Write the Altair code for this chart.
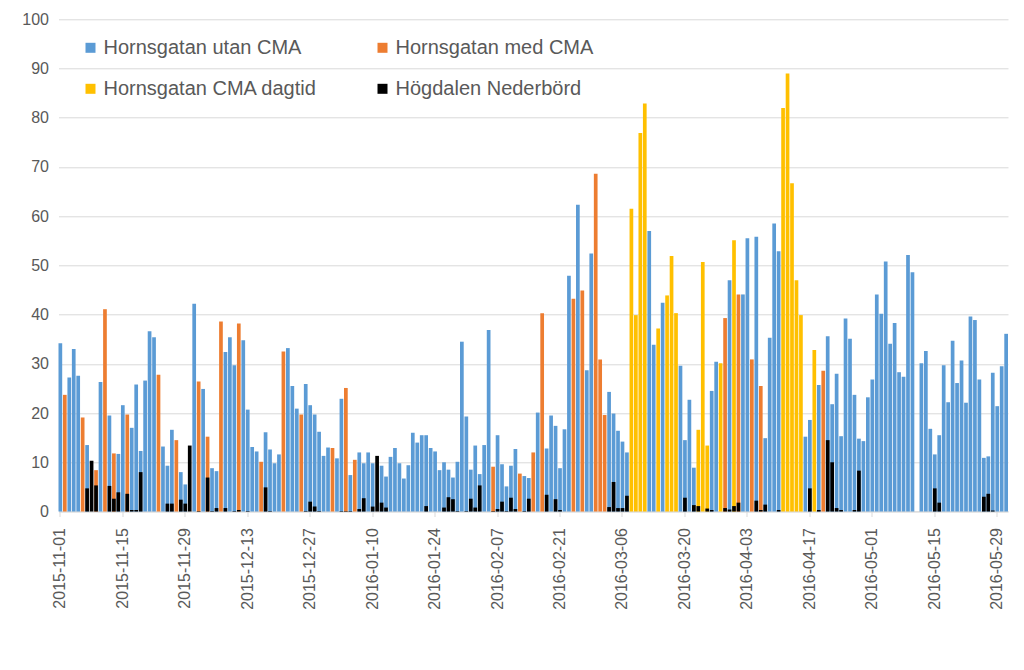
import altair as alt
import pandas as pd

start = "2015-11-01"

# PM10 per day (None = no value shown)
pm10 = [
    34.2, 23.7, 27.2, 33.0, 27.6, 19.1, 13.5, None, 8.4, 26.3,
    41.1, 19.5, 11.8, 11.7, 21.6, 19.7, 17.0, 25.8, 12.3, 26.6,
    36.6, 35.4, 27.8, 13.2, 9.3, 16.6, 14.5, 8.0, 5.5, None,
    42.2, 26.4, 24.9, 15.2, 8.8, 8.2, 38.6, 32.4, 35.4, 29.7,
    38.2, 34.8, 20.7, 13.1, 12.2, 10.1, 16.1, 12.6, 9.8, 11.6,
    32.5, 33.2, 25.5, 20.9, 19.7, 25.9, 21.6, 19.7, 16.2, 11.3,
    13.0, 12.9, 10.8, 22.9, 25.1, 7.4, 10.5, 12.0, 9.8, 12.0,
    9.8, None, 9.3, 7.1, 11.1, 12.9, 9.8, 6.7, 9.4, 16.0,
    14.0, 15.5, 15.5, 12.9, 12.2, 8.4, 10.0, 8.5, 6.9, 10.1,
    34.5, 19.3, 8.5, 13.4, 7.6, 13.5, 36.9, 9.1, 15.5, 9.6,
    5.1, 9.3, 12.7, 7.7, 7.2, 6.8, 12.0, 20.1, 40.3, 12.8,
    19.5, 17.4, 8.8, 16.7, 47.9, 43.2, 62.3, 44.9, 28.7, 52.4,
    68.6, 30.9, 19.6, 24.3, 19.9, 16.4, 14.2, 12.0, 61.5, 39.9,
    76.9, 82.9, 57.0, 33.9, 37.2, 42.4, 43.9, 51.9, 40.3, 29.6,
    14.5, 22.7, 8.9, 16.6, 50.7, 13.4, 24.5, 30.4, 30.1, 39.3,
    47.0, 55.1, 44.1, 44.1, 55.5, 30.9, 55.8, 25.5, 14.9, 35.3,
    58.5, 52.9, 82.0, 89.0, 66.7, 47.0, 39.9, 15.2, 18.6, 32.8,
    25.7, 28.6, 35.6, 21.8, 28.0, 15.3, 39.2, 35.1, 23.7, 14.8,
    14.3, 23.2, 26.8, 44.1, 40.2, 50.8, 34.1, 38.3, 28.3, 27.4,
    52.1, 48.6, None, 30.1, 32.6, 16.8, 11.6, 15.5, 29.7, 22.2,
    34.7, 26.1, 30.7, 22.1, 39.6, 38.9, 26.8, 10.9, 11.2, 28.2,
    21.4, 29.5, 36.1,
]

# Which series each day's PM10 value belongs to: U = utan CMA, M = med CMA, D = CMA dagtid
cats = (
    "UMUUUMU-MU" "MUMUUMUUUU" "UUMUUUMUU-" "UMUMUUMUUU" "MUUUUMUUUU"
    "MUUUMUUUUU" "UMUUMUMUUU" "U-UUUUUUUU" "UUUUUUUUUU" "UUUUUUUMUU"
    "UUUMUUMUMU" "UUUUUMUMUU" "MMMUUUUUDD" "DDUUDUDDDU" "UUUDDDUUDM"
    "UDMUUMUMUU" "UUDDDDDUUD" "UMUUUUUUUU" "UUUUUUUUUU" "UU-UUUUUUU"
    "UUUUUUUUUU" "UUU"
)

# Precipitation Högdalen (mm)
precip = [
    0, 0, 0, 0, 0, 0, 4.7, 10.3, 5.3, 0,
    0, 5.2, 2.6, 3.9, 0, 3.6, 0.3, 0.3, 8.0, 0,
    0, 0, 0, 0, 1.6, 1.6, 0, 2.4, 1.6, 13.4,
    0, 0.1, 0, 6.9, 0.1, 0.7, 0, 0.7, 0, 0.1,
    0.3, 0, 0.1, 0, 0, 0, 4.9, 0.1, 0, 0,
    0, 0, 0, 0, 0, 0.1, 2.0, 1.0, 0.1, 0,
    0, 0, 0, 0.1, 0.1, 0.1, 0, 0.5, 2.7, 0,
    1.0, 11.3, 1.8, 0.8, 0, 0, 0, 0, 0, 0,
    0, 0, 1.1, 0, 0, 0, 0.8, 2.9, 2.5, 0.1,
    0, 0.1, 2.6, 0.8, 5.3, 0, 0, 0.1, 0.5, 2.0,
    0.1, 2.8, 0.5, 0, 0.1, 2.6, 0, 0, 0, 3.4,
    0, 2.5, 0.3, 0, 0, 0, 0, 0, 0, 0,
    0, 0, 0, 0.9, 6.0, 0.7, 0.7, 3.2, 0, 0,
    0, 0, 0, 0, 0, 0, 0, 0, 0, 0,
    2.8, 0, 1.3, 1.1, 0, 0.6, 0.3, 0, 0, 0.7,
    0.4, 1.1, 1.8, 0, 0, 0, 2.2, 0.3, 1.4, 0,
    0, 0.3, 0, 0, 0, 0, 0, 0, 4.7, 0,
    0.3, 0, 14.5, 10.0, 0.7, 0.3, 0, 0, 0.3, 8.3,
    0, 0, 0, 0, 0, 0, 0, 0, 0, 0,
    0, 0, 0, 0, 0, 0, 4.7, 1.8, 0, 0,
    0, 0, 0, 0, 0, 0, 0, 3.0, 3.6, 0.2,
    0, 0, 0,
]

series_names = {
    "U": "Hornsgatan utan CMA",
    "M": "Hornsgatan med CMA",
    "D": "Hornsgatan CMA dagtid",
}
precip_name = "Högdalen Nederbörd"
legend_order = ["Hornsgatan utan CMA", "Hornsgatan med CMA",
                "Hornsgatan CMA dagtid", precip_name]
colors = ["#5B9BD5", "#ED7D31", "#FFC000", "#000000"]

dates = pd.date_range(start, periods=len(pm10)).strftime("%Y-%m-%d").tolist()
tick_dates = dates[::14]

rows = []
for d, v, c in zip(dates, pm10, cats):
    if v is not None and c in series_names:
        rows.append({"date": d, "value": v, "series": series_names[c], "layer": 0})
for d, p in zip(dates, precip):
    if p > 0:
        rows.append({"date": d, "value": p, "series": precip_name, "layer": 1})
df = pd.DataFrame(rows)

FONT = "Liberation Sans"
GRAY = "#595959"

x = alt.X(
    "date:O",
    scale=alt.Scale(domain=dates, paddingInner=0.17, paddingOuter=0),
    axis=alt.Axis(
        values=tick_dates, labelAngle=270, labelAlign="right", labelBaseline="middle",
        labelFontSize=16, labelColor=GRAY, labelFont=FONT, labelPadding=11,
        ticks=True, tickSize=5, tickColor="#d9d9d9", domainColor="#d9d9d9",
        grid=False, labelOverlap=False,
    ),
    title=None,
)
y = alt.Y(
    "value:Q",
    scale=alt.Scale(domain=[0, 100], nice=False),
    stack=None,
    axis=alt.Axis(
        values=list(range(0, 101, 10)), grid=True, gridColor="#d9d9d9",
        domain=False, ticks=False, labelFontSize=16, labelColor=GRAY,
        labelFont=FONT, labelPadding=10,
    ),
    title=None,
)
color = alt.Color(
    "series:N",
    scale=alt.Scale(domain=legend_order, range=colors),
    legend=alt.Legend(
        orient="none", legendX=22, legendY=18.5, columns=2, direction="horizontal",
        title=None, symbolType="square", symbolSize=100, symbolStrokeWidth=0,
        labelFontSize=20, labelColor=GRAY, labelFont=FONT, labelOffset=3,
        columnPadding=55, rowPadding=21, labelLimit=400,
    ),
)

base = alt.Chart(df).mark_bar(binSpacing=0).encode(x=x, y=y, color=color)
colored = base.transform_filter(alt.datum.layer == 0)
black = base.transform_filter(alt.datum.layer == 1)

chart = (
    alt.layer(colored, black)
    .properties(
        width=949.5, height=492.2,
        autosize=alt.AutoSizeParams(type="none"),
        padding={"left": 50.5, "top": 11.3, "right": 6, "bottom": 140},
        background="white",
    )
    .configure_view(stroke=None)
)

chart.save("out.html", embed_options={"renderer": "svg", "actions": False})
